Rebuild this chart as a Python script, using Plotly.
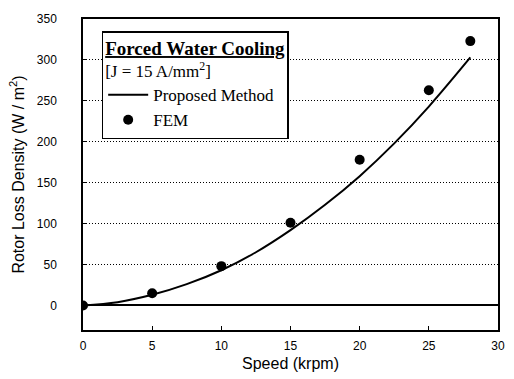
import plotly.graph_objects as go

# Proposed method curve
speed_line = [0, 2.5, 5, 7.5, 10, 12.5, 15, 17.5, 20, 22.5, 25, 28]
loss_line = [0, 4, 13, 26, 43, 65, 92, 123, 158, 198, 243, 303]

# FEM points
speed_fem = [0, 5, 10, 15, 20, 25, 28]
loss_fem = [0, 15, 48, 101, 178, 263, 323]

x_ticks = [0, 5, 10, 15, 20, 25, 30]
y_ticks = [0, 50, 100, 150, 200, 250, 300, 350]

fig = go.Figure()
fig.add_trace(go.Scatter(x=speed_line, y=loss_line, mode="lines", name="Proposed Method",
                         line=dict(color="black", width=2, shape="spline"), cliponaxis=True))
fig.add_trace(go.Scatter(x=speed_fem, y=loss_fem, mode="markers", name="FEM",
                         marker=dict(color="black", size=10), cliponaxis=True))

serif = "Liberation Serif, Times New Roman"
fig.update_layout(
    width=514, height=379,
    margin=dict(l=83, r=9, t=19, b=48),
    paper_bgcolor="white", plot_bgcolor="white",
    font=dict(family="Liberation Sans, Arial", color="black", size=12),
    showlegend=True,
    legend=dict(
        x=0.045, y=0.96, xanchor="left", yanchor="top",
        bgcolor="white", bordercolor="black", borderwidth=1.5,
        font=dict(family=serif, size=17, color="black"),
        title=dict(text="<span style='font-size:19px'><b><u>Forced Water Cooling</u></b></span><br>[J = 15 A/mm<sup>2</sup>]",
                   font=dict(family=serif, size=17, color="black"),
                   side="top"),
        tracegroupgap=0, itemwidth=40,
    ),
    xaxis=dict(
        range=[0, 30], tickvals=x_ticks, ticks="inside", ticklen=4, tickcolor="black",
        showline=True, linecolor="black", linewidth=1.5, mirror=True,
        showgrid=False, zeroline=False, ticklabelstandoff=4,
        title=dict(text="Speed (krpm)", font=dict(size=16), standoff=6),
        tickfont=dict(size=12),
    ),
    yaxis=dict(
        range=[-30, 350], tickvals=y_ticks, ticks="inside", ticklen=4, tickcolor="black",
        showline=True, linecolor="black", linewidth=1.5, mirror=True,
        showgrid=True, gridcolor="black", griddash="1px,2px", gridwidth=1,
        zeroline=True, zerolinecolor="black", zerolinewidth=1.5,
        ticklabelstandoff=22,
        title=dict(text="Rotor Loss Density (W / m<sup>2</sup>)", font=dict(size=16), standoff=8),
        tickfont=dict(size=12),
    ),
)

fig.write_html("out.html")
